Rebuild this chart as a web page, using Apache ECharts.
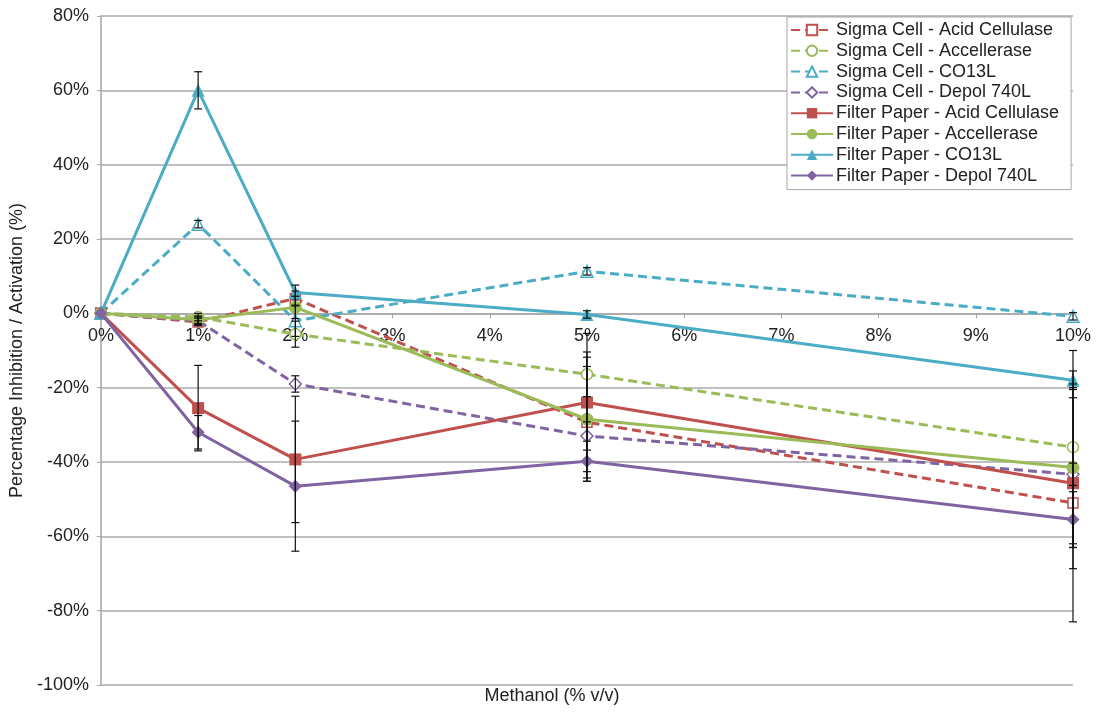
<!DOCTYPE html>
<html>
<head>
<meta charset="utf-8">
<script src="https://cdn.jsdelivr.net/npm/echarts@6/dist/echarts.min.js"></script>
<style>
  html, body { margin: 0; padding: 0; background: #fff; }
  #chart { width: 1104px; height: 713px; }
</style>
</head>
<body>
<div id="chart"></div>
<script>
// Methanol concentration (% v/v) at which activity was measured
const methanol = [0, 1, 2, 5, 10];

// Percentage inhibition / activation for each substrate - enzyme pair
const sigmaAcid    = [0, -2.3, 4, -29.3, -51];
const sigmaAccel   = [0, -1, -5.6, -16.4, -36];
const sigmaCO13L   = [0, 24, -2, 11.3, -0.8];
const sigmaDepol   = [0, -2, -19, -33, -43.3];
const filterAcid   = [0, -25.5, -39.3, -24, -45.7];
const filterAccel  = [0, -1.7, 1.6, -28.5, -41.5];
const filterCO13L  = [0, 60, 5.6, -0.3, -18];
const filterDepol  = [0, -32, -46.5, -39.8, -55.5];

// Error bar half-widths (same units)
const sigmaAcidErr   = [0, 1, 2, 15, 32];
const sigmaAccelErr  = [0, 1, 3.5, 6, 26];
const sigmaCO13LErr  = [0, 1, 4.2, 1, 1];
const sigmaDepolErr  = [0, 1, 2.2, 3.8, 3];
const filterAcidErr  = [0, 11.5, 17, 18.6, 23];
const filterAccelErr = [0, 1, 3, 16.7, 21.5];
const filterCO13LErr = [0, 5, 2, 1, 2.5];
const filterDepolErr = [0, 4.5, 17.5, 5.4, 7.5];

// Axis ranges
const Y_MIN = -100, Y_MAX = 80, Y_STEP = 20;
const X_MIN = 0, X_MAX = 10, X_STEP = 1;

const RED = '#c0504d', GREEN = '#9bbb59', BLUE = '#4bacc6', PURPLE = '#8064a2';
const FONT = '"Liberation Sans", Arial, sans-serif';
const TEXT = '#222222';

const GRID_TOP = 16, GRID_BOTTOM = 28, CHART_H = 713;
const plotH = CHART_H - GRID_TOP - GRID_BOTTOM;
// distance from plot bottom up to the 0% line, so the concentration labels sit on it
const zeroLift = plotH * (0 - Y_MIN) / (Y_MAX - Y_MIN);

const seriesDefs = [
  { name: 'Sigma Cell - Acid Cellulase',   values: sigmaAcid,   err: sigmaAcidErr,   color: RED,    dashed: true,  symbol: 'rect',     size: 10 },
  { name: 'Sigma Cell - Accellerase',      values: sigmaAccel,  err: sigmaAccelErr,  color: GREEN,  dashed: true,  symbol: 'circle',   size: 11 },
  { name: 'Sigma Cell - CO13L',            values: sigmaCO13L,  err: sigmaCO13LErr,  color: BLUE,   dashed: true,  symbol: 'triangle', size: 12 },
  { name: 'Sigma Cell - Depol 740L',       values: sigmaDepol,  err: sigmaDepolErr,  color: PURPLE, dashed: true,  symbol: 'diamond',  size: 12 },
  { name: 'Filter Paper - Acid Cellulase', values: filterAcid,  err: filterAcidErr,  color: RED,    dashed: false, symbol: 'rect',     size: 12 },
  { name: 'Filter Paper - Accellerase',    values: filterAccel, err: filterAccelErr, color: GREEN,  dashed: false, symbol: 'circle',   size: 13 },
  { name: 'Filter Paper - CO13L',          values: filterCO13L, err: filterCO13LErr, color: BLUE,   dashed: false, symbol: 'triangle', size: 13 },
  { name: 'Filter Paper - Depol 740L',     values: filterDepol, err: filterDepolErr, color: PURPLE, dashed: false, symbol: 'diamond',  size: 13 }
];

const lineSeries = seriesDefs.map(function (d, i) {
  return {
    name: d.name,
    type: 'line',
    data: methanol.map(function (x, j) { return [x, d.values[j]]; }),
    symbol: d.symbol,
    symbolSize: d.size,
    showAllSymbol: true,
    z: 2 + i,
    lineStyle: { color: d.color, width: 3, type: d.dashed ? [9, 5] : 'solid' },
    itemStyle: d.dashed
      ? { color: '#ffffff', borderColor: d.color, borderWidth: 1.5 }
      : { color: d.color, borderColor: d.color, borderWidth: 0 },
    emphasis: { disabled: true },
    animation: false
  };
});

// Error bars, one point per series per concentration
const errData = [];
seriesDefs.forEach(function (d) {
  methanol.forEach(function (x, j) {
    if (d.err[j] > 0) errData.push([x, d.values[j] - d.err[j], d.values[j] + d.err[j]]);
  });
});

const errorSeries = {
  type: 'custom',
  name: 'error',
  z: 20,
  silent: true,
  animation: false,
  data: errData,
  encode: { x: 0, y: [1, 2] },
  renderItem: function (params, api) {
    const lo = api.coord([api.value(0), api.value(1)]);
    const hi = api.coord([api.value(0), api.value(2)]);
    const cap = 4;
    const style = { stroke: '#111111', lineWidth: 1.2 };
    return {
      type: 'group',
      children: [
        { type: 'line', shape: { x1: lo[0], y1: lo[1], x2: hi[0], y2: hi[1] }, style: style },
        { type: 'line', shape: { x1: lo[0] - cap, y1: lo[1], x2: lo[0] + cap, y2: lo[1] }, style: style },
        { type: 'line', shape: { x1: hi[0] - cap, y1: hi[1], x2: hi[0] + cap, y2: hi[1] }, style: style }
      ]
    };
  }
};

const chart = echarts.init(document.getElementById('chart'), null, { renderer: 'canvas' });
chart.setOption({
  backgroundColor: '#ffffff',
  animation: false,
  textStyle: { fontFamily: FONT },
  grid: { left: 100, right: 31, top: GRID_TOP, bottom: GRID_BOTTOM, containLabel: false },
  xAxis: {
    type: 'value',
    min: X_MIN, max: X_MAX, interval: X_STEP,
    position: 'bottom',
    offset: -zeroLift,
    axisLine: { onZero: false, lineStyle: { color: '#a6a6a6', width: 1.5 } },
    axisTick: { show: true, length: 5, lineStyle: { color: '#a6a6a6' } },
    axisLabel: { formatter: '{value}%', fontSize: 18, color: TEXT, fontFamily: FONT, margin: 14 },
    splitLine: { show: false }
  },
  yAxis: {
    type: 'value',
    min: Y_MIN, max: Y_MAX, interval: Y_STEP,
    name: 'Percentage Inhibition / Activation (%)',
    nameLocation: 'middle',
    nameGap: 69,
    nameTextStyle: { fontSize: 18, color: TEXT, fontFamily: FONT },
    axisLine: { show: true, onZero: false, lineStyle: { color: '#a6a6a6', width: 1.5 } },
    axisTick: { show: true, length: 4, lineStyle: { color: '#a6a6a6' } },
    axisLabel: { formatter: '{value}%', fontSize: 18, color: TEXT, fontFamily: FONT, margin: 12 },
    splitLine: { show: true, lineStyle: { color: '#ababab', width: 1.5 } }
  },
  legend: {
    data: seriesDefs.map(function (d) { return d.name; }),
    orient: 'vertical',
    left: 787, top: 17,
    padding: [3, 12, 4, 3],
    itemWidth: 42, itemHeight: 13, itemGap: 0.8,
    backgroundColor: '#ffffff',
    borderColor: '#a6a6a6', borderWidth: 1,
    textStyle: { fontSize: 18, color: TEXT, fontFamily: FONT, lineHeight: 20, padding: [0, 0, 0, -2] },
    selectedMode: false
  },
  graphic: [{
    type: 'text',
    left: 'center',
    top: 687,
    style: { text: 'Methanol (% v/v)', fontSize: 18, fill: TEXT, fontFamily: FONT }
  }],
  series: lineSeries.concat([errorSeries])
});
</script>
</body>
</html>
